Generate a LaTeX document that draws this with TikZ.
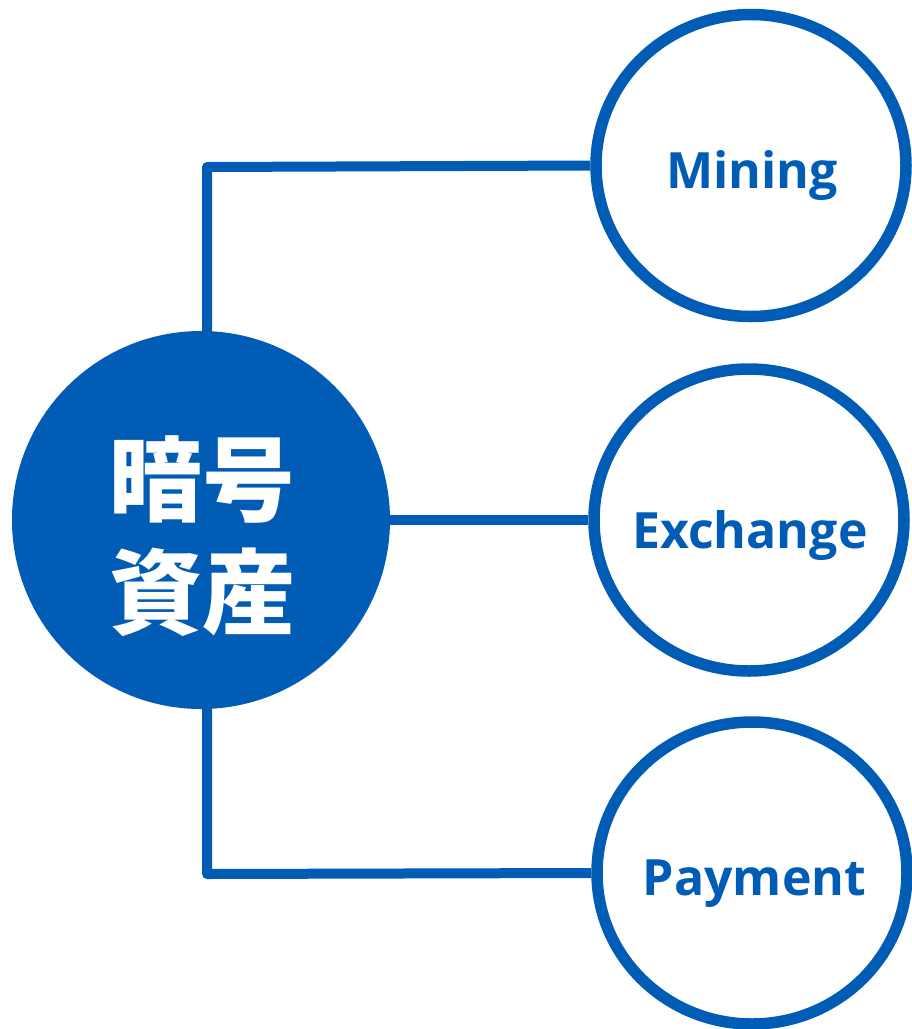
\documentclass[tikz,border=0pt]{standalone}
\usepackage{fontspec}
\usetikzlibrary{backgrounds,shapes.geometric}
\setmainfont{Open Sans}
\newfontfamily\cjkfont{Noto Sans CJK JP}
\definecolor{cblue}{RGB}{0,92,180}
\begin{document}
\begin{tikzpicture}[x=1pt,y=-1pt,
  conn/.style={draw=cblue,line width=10pt,line join=round},
  bigcirc/.style={circle,fill=cblue,draw=none,minimum size=378pt,inner sep=0pt},
  smallcirc/.style={ellipse,fill=white,draw=cblue,line width=11.5pt,minimum width=310pt,minimum height=302pt,inner sep=0pt},
  lbl/.style={text=cblue,font=\bfseries\fontsize{50}{60}\selectfont,inner sep=0pt,anchor=base},
  jlbl/.style={text=white,font=\cjkfont\bfseries\fontsize{93}{113}\selectfont,inner sep=0pt,align=center}
]
\useasboundingbox (0,0) rectangle (912,1029);
\coordinate (c1) at (207,167);
\coordinate (c2) at (207,874);
\node[bigcirc] (main) at (201,520) {};
\node[smallcirc] (mining) at (751,165.5) {};
\node[smallcirc] (exch) at (749,520) {};
\node[smallcirc] (pay) at (752,873) {};
\begin{scope}[on background layer]
\draw[conn] (c1 |- main.center) -- (c1) -- (mining.west);
\draw[conn] (main.center) -- (exch.west);
\draw[conn] (c2 |- main.center) -- (c2) -- (pay.west);
\end{scope}
\node[jlbl] (mainlbl) at (202,536) {暗号\\資産};
\node[lbl] (mininglbl) at (752,188) {Mining};
\node[lbl] (exchlbl) at (750,548) {Exchange};
\node[lbl] (paylbl) at (754.5,895) {Payment};
\end{tikzpicture}
\end{document}
